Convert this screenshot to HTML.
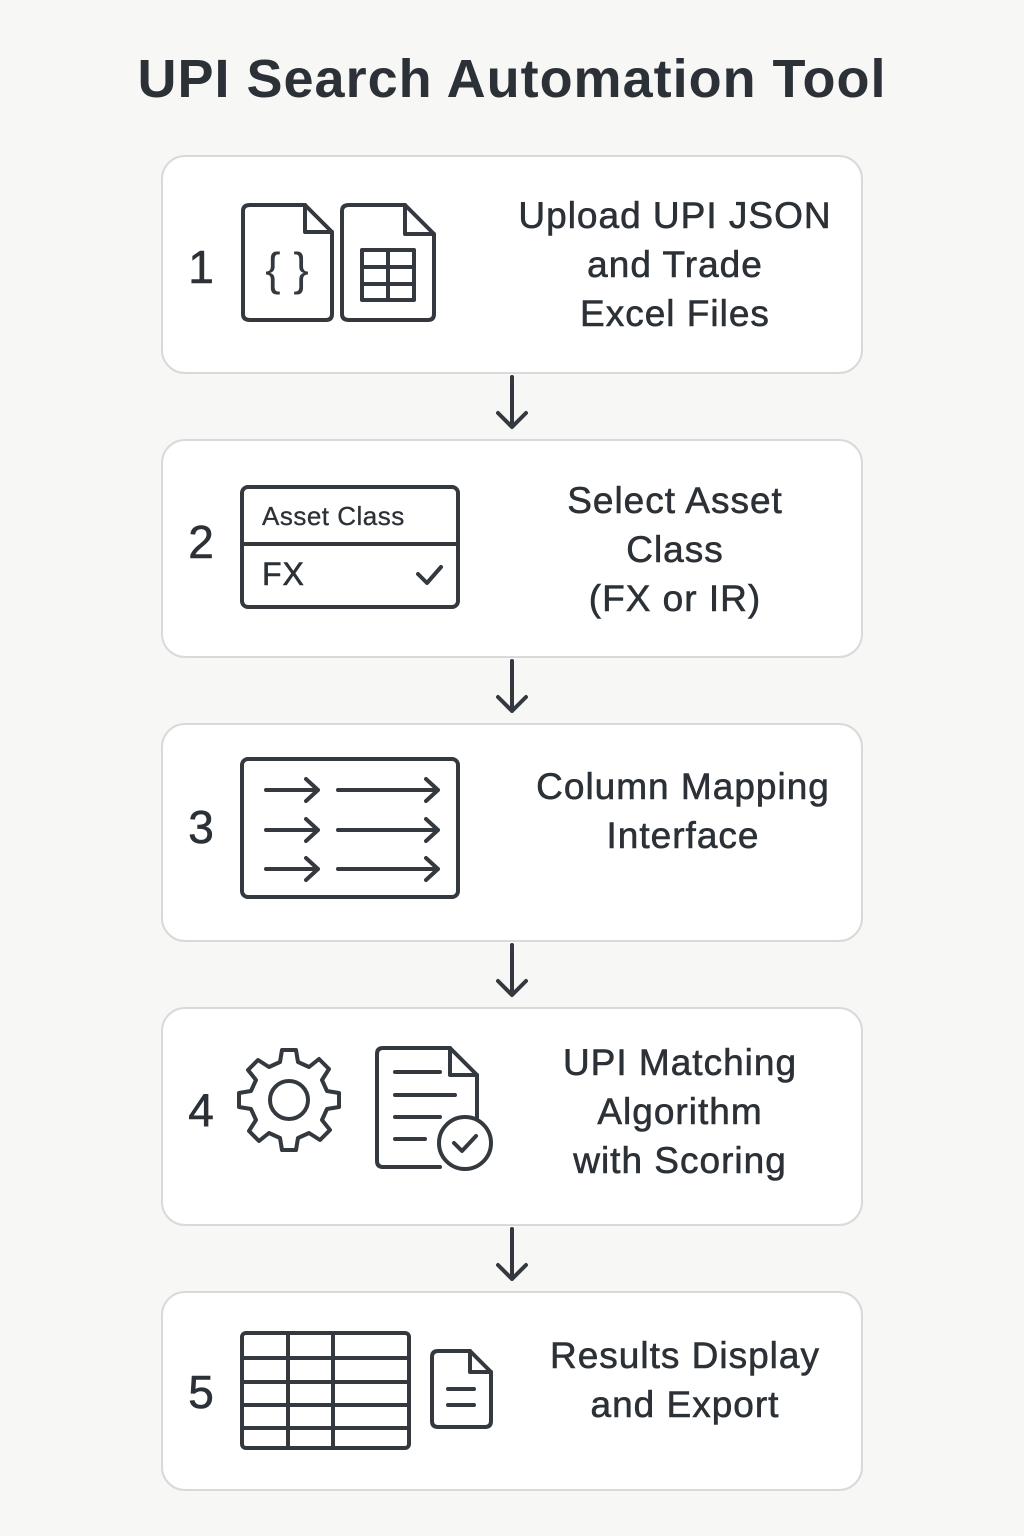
<!DOCTYPE html>
<html><head><meta charset="utf-8"><style>
body{margin:0;width:1024px;height:1536px;background:#f7f7f5;font-family:"Liberation Sans",sans-serif;color:#2b3136;position:relative;overflow:hidden}
.t{position:absolute;left:0;width:1024px;top:48px;text-align:center;font-size:54px;font-weight:bold;letter-spacing:1px}
.b{position:absolute;left:161px;width:698px;background:#fff;border:2px solid #d9d9d9;border-radius:24px}
.n{position:absolute;left:186px;font-size:46px;width:30px;text-align:center;-webkit-text-stroke:0.6px #2b3136}
.l{position:absolute;text-align:center;font-size:37px;line-height:49px;letter-spacing:1px;-webkit-text-stroke:0.6px #2b3136}
svg{position:absolute;left:0;top:0}
</style></head><body>
<div class="t">UPI Search Automation Tool</div>
<div class="b" style="top:155px;height:215px"></div>
<div class="b" style="top:439px;height:215px"></div>
<div class="b" style="top:723px;height:215px"></div>
<div class="b" style="top:1007px;height:215px"></div>
<div class="b" style="top:1291px;height:196px"></div>
<div class="n" style="top:240px">1</div>
<div class="n" style="top:515px">2</div>
<div class="n" style="top:800px">3</div>
<div class="n" style="top:1083px">4</div>
<div class="n" style="top:1365px">5</div>
<div class="l" style="left:490px;width:370px;top:191px">Upload UPI JSON<br>and Trade<br>Excel Files</div>
<div class="l" style="left:490px;width:370px;top:476px">Select Asset<br>Class<br>(FX or IR)</div>
<div class="l" style="left:498px;width:370px;top:762px">Column Mapping<br>Interface</div>
<div class="l" style="left:495px;width:370px;top:1038px">UPI Matching<br>Algorithm<br>with Scoring</div>
<div class="l" style="left:500px;width:370px;top:1331px">Results Display<br>and Export</div>
<div class="l" style="left:262px;top:500px;font-size:26px;line-height:32px;letter-spacing:0.5px;-webkit-text-stroke:0.3px #2b3136">Asset Class</div>
<div class="l" style="left:262px;top:556px;font-size:32px;line-height:36px">FX</div>
<svg width="1024" height="1536" fill="none" stroke="#33393e" stroke-width="4" stroke-linecap="round" stroke-linejoin="round">
<path d="M512 377V427M498 413L512 427L526 413"/>
<path d="M512 661V711M498 697L512 711L526 697"/>
<path d="M512 945V995M498 981L512 995L526 981"/>
<path d="M512 1229V1279M498 1265L512 1279L526 1265"/>
<path d="M250 205H305L332 232V314Q332 320 326 320H250Q243 320 243 314V211Q243 205 250 205Z"/><path d="M305 205V232H332"/>
<text x="287" y="285" font-size="46" fill="#33393e" stroke="none" text-anchor="middle" font-family="Liberation Sans">{ }</text>
<path d="M349 205H405L434 234V314Q434 320 428 320H349Q342 320 342 314V211Q342 205 349 205Z"/><path d="M405 205V234H434"/>
<rect x="362" y="250" width="52" height="50"/><path d="M362 267H414M362 284H414M388 250V300"/>
<rect x="242" y="487" width="216" height="120" rx="6"/><path d="M242 544H458"/><path d="M418 574L427 583L441 567"/>
<rect x="242" y="759" width="216" height="138" rx="6"/>
<path d="M266 790H318M306 779L318 790L306 801M338 790H438M426 779L438 790L426 801"/>
<path d="M266 830H318M306 819L318 830L306 841M338 830H438M426 819L438 830L426 841"/>
<path d="M266 869H318M306 858L318 869L306 880M338 869H438M426 858L438 869L426 880"/>
<g transform="translate(289 1100)">
<circle r="19"/>
<path d="M-7 -50H7L9 -38L20 -33L30 -41L40 -31L33 -20L38 -9L50 -7V7L38 9L33 20L41 30L31 40L20 33L9 38L7 50H-7L-9 38L-20 33L-30 41L-40 31L-33 20L-38 9L-50 7V-7L-38 -9L-33 -20L-41 -30L-31 -40L-20 -33L-9 -38Z"/>
</g>
<path d="M440 1167H383Q377 1167 377 1161V1054Q377 1048 383 1048H450L477 1075V1118"/><path d="M450 1048V1075H477"/>
<path d="M395 1072H440M395 1095H455M395 1117H440M395 1139H425"/>
<circle cx="465" cy="1143" r="26"/><path d="M454 1143L462 1151L476 1136"/>
<rect x="242" y="1333" width="167" height="115" rx="4"/>
<path d="M242 1358H409M242 1382H409M242 1405H409M242 1428H409M288 1333V1448M333 1333V1448"/>
<path d="M438 1351H470L491 1372V1421Q491 1427 485 1427H438Q432 1427 432 1421V1357Q432 1351 438 1351Z"/><path d="M470 1351V1372H491"/>
<path d="M448 1389H474M448 1405H474"/>
</svg>
</body></html>
